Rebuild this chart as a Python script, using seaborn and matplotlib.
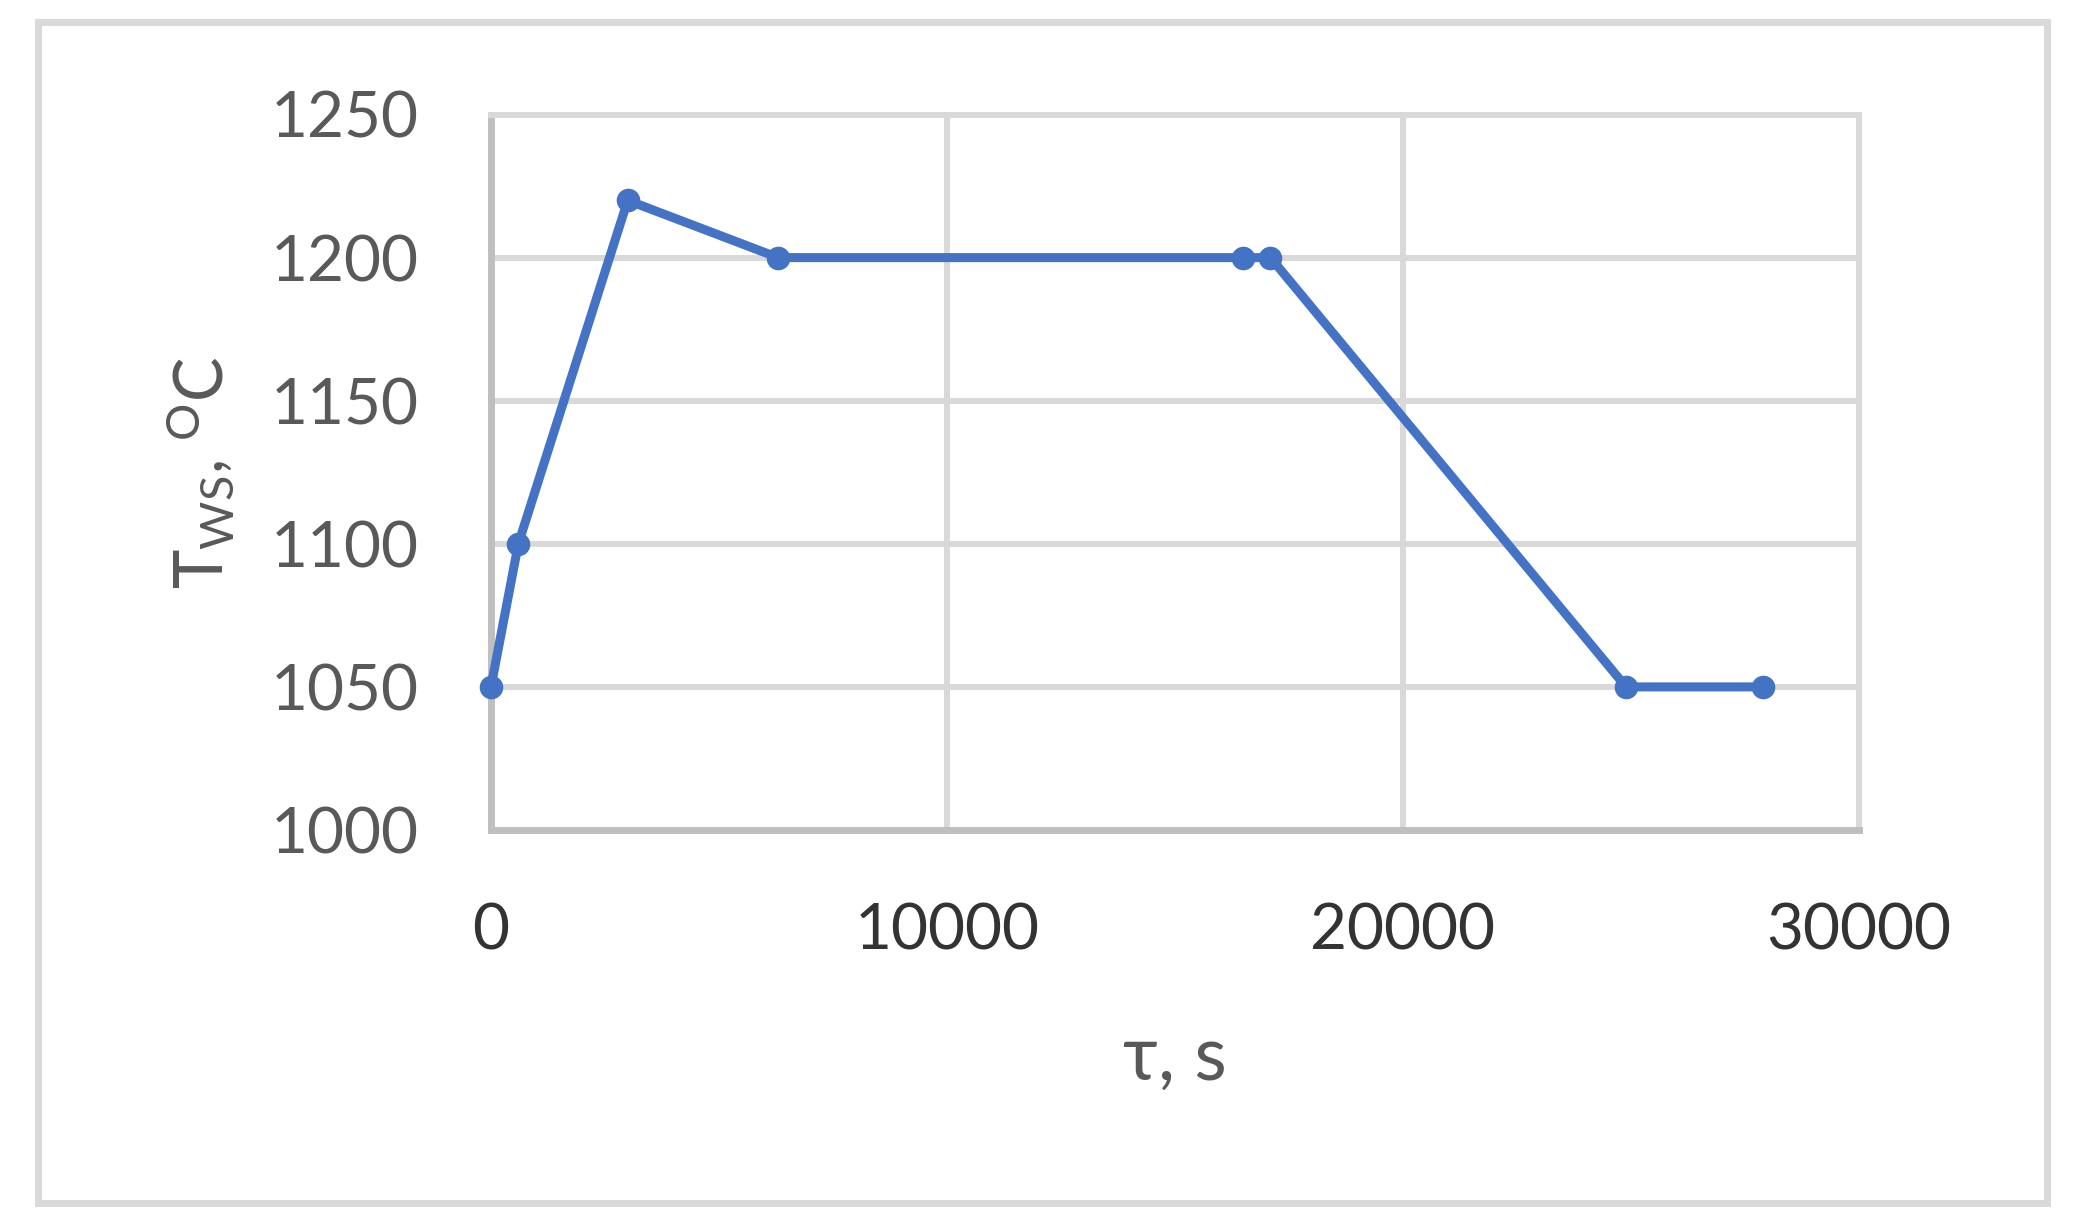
import numpy as np
import pandas as pd
import seaborn as sns
import matplotlib.pyplot as plt
from matplotlib.patches import Rectangle

# values
time_s = [0, 600, 3000, 6300, 16500, 17100, 24900, 27900]
temp_c = [1050, 1100, 1220, 1200, 1200, 1200, 1050, 1050]
x_ticks = [0, 10000, 20000, 30000]
y_ticks = [1000, 1050, 1100, 1150, 1200, 1250]

sns.set_theme(style='whitegrid')
plt.rcParams['font.family'] = ['Lato', 'DejaVu Sans']
plt.rcParams['mathtext.fontset'] = 'custom'
plt.rcParams['mathtext.rm'] = 'Lato'
plt.rcParams['mathtext.default'] = 'regular'

W, H = 2075, 1227
fig = plt.figure(figsize=(W / 100, H / 100), dpi=100)
ax = fig.add_axes([491 / W, 1 - 830 / H, (1858.5 - 491) / W, (830 - 114.5) / H])

df = pd.DataFrame({'time': time_s, 'temp': temp_c})
sns.lineplot(data=df, x='time', y='temp', ax=ax, color='#4472C4', lw=6.5,
             marker='o', markersize=17, markeredgewidth=0, clip_on=False, zorder=5)

ax.set_xlim(0, 30000)
ax.set_ylim(1000, 1250)
ax.set_xticks(x_ticks)
ax.set_yticks(y_ticks)
ax.grid(True, color='#d9d9d9', lw=4.3)
ax.set_axisbelow(True)

for side in ['left', 'bottom']:
    ax.spines[side].set_color('#bfbfbf')
    ax.spines[side].set_linewidth(5)
for side in ['top', 'right']:
    ax.spines[side].set_color('#d9d9d9')
    ax.spines[side].set_linewidth(4.3)

ax.tick_params(axis='both', length=0, labelsize=46, pad=52)
ax.tick_params(axis='y', labelcolor='#595959')
ax.tick_params(axis='x', labelcolor='#333333')
ax.set_xlabel(None)
ax.set_ylabel(None)

fig.text(1174.5 / W, 1 - 1058 / H, 'τ, s', ha='center', va='center',
         fontsize=54, color='#595959')
fig.text(200 / W, 1 - 473 / H, r'T$_{WS}$, $^{O}$C', ha='center', va='center',
         rotation=90, fontsize=48, color='#595959')

# outer chart frame
fig.add_artist(Rectangle((38 / W, 1 - 1203 / H), (2047 - 38) / W, (1203 - 22) / H,
                         transform=fig.transFigure, fill=False, ec='#d9d9d9', lw=5))

fig.savefig('out.png', dpi=100)
